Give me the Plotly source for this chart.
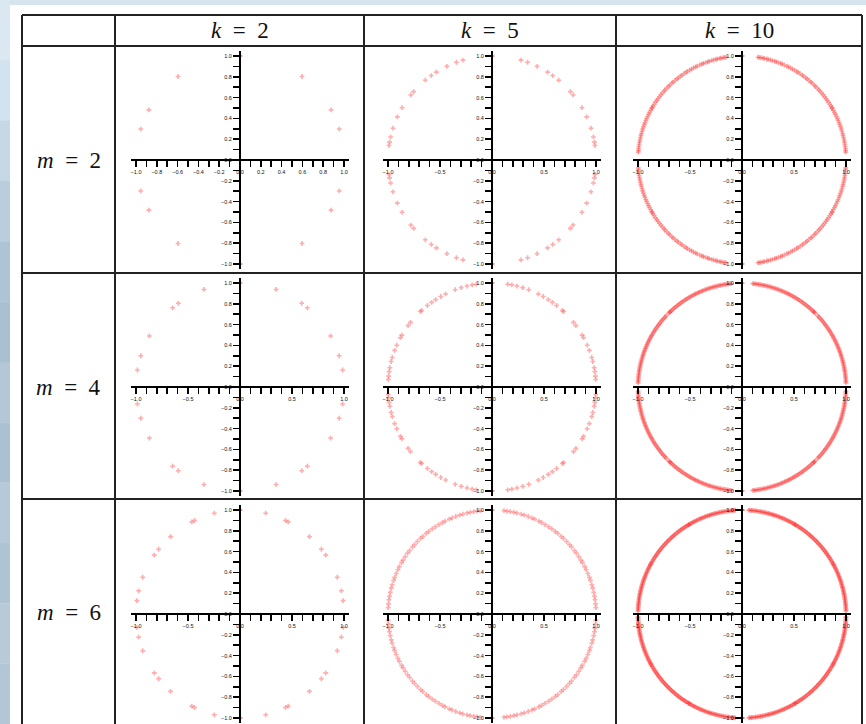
import math
import plotly.graph_objects as go

# ---------------- data (angles in degrees, first quadrant) ----------------
k_values = [2, 5, 10]
m_values = [2, 4, 6]

ang_m2_k2 = [90, 53.4, 28.8, 17.3]
ang_m2_k5 = [90, 73.8, 70.0, 64.3, 57.7, 54.3, 50.1, 41.1, 38.7, 30.2, 24.5, 17.8, 12.8, 9.9, 8.0]
ang_m2_k10 = [90, 81.2, 80.4, 79.5, 78.3, 77.6, 76.2, 75.4, 74.1, 73.0, 71.6, 70.8, 69.5, 68.1, 67.3,
              66.0, 64.4, 63.5, 62.2, 61.0, 59.8, 58.3, 57.4, 56.1, 54.6, 53.7, 52.2, 51.3, 49.9,
              48.5, 47.6, 46.0, 45.1, 43.7, 42.3, 41.4, 40.0, 38.8, 37.5, 36.2, 35.0, 33.8, 32.4,
              31.2, 30.0, 30.0, 28.6, 27.3, 26.2, 24.9, 23.6, 22.4, 21.0, 19.9, 18.6, 17.3, 16.2,
              14.8, 13.7, 12.4, 11.1, 10.0, 8.7, 7.5, 6.2, 5.1, 4.3]

ang_m4_k2 = [90, 69.7, 53.6, 49.6, 29.4, 17.5, 9.4]
ang_m4_k5 = [90, 81.3, 79.0, 76.1, 72.8, 69.3, 63.5, 60.5, 57.2, 54.5, 51.6, 47.4, 46.5, 38.4, 36.2,
             29.9, 28.3, 23.7, 20.6, 16.5, 14.2, 10.7, 8.5, 6.0, 4.1]
ang_m4_k10 = [90, 84.1, 83.4, 82.6, 81.9, 81.0, 80.3, 79.5, 78.6, 77.9, 77.1, 76.2, 75.5, 74.6, 73.8,
              73.0, 72.1, 71.4, 70.5, 69.7, 68.9, 68.0, 67.3, 66.4, 65.6, 64.8, 63.9, 63.2, 62.3,
              61.5, 60.7, 59.8, 59.1, 58.2, 57.4, 56.6, 55.7, 55.0, 54.1, 53.3, 52.5, 51.6, 50.9,
              50.0, 49.2, 48.4, 47.5, 46.8, 46.0, 46.0, 45.2, 43.4, 42.6, 41.8, 40.9, 40.0, 39.2,
              38.3, 37.6, 36.7, 35.9, 35.1, 34.2, 33.5, 32.6, 31.8, 31.0, 30.1, 29.4, 28.5, 27.7,
              26.9, 26.0, 25.3, 24.4, 23.6, 22.8, 21.9, 21.2, 20.3, 19.5, 18.7, 17.8, 17.1, 16.2,
              15.4, 14.6, 13.7, 13.0, 12.1, 11.3, 10.5, 9.6, 8.9, 8.0, 7.2, 6.4, 5.5, 4.8, 3.9,
              3.1, 2.3]

ang_m6_k2 = [90, 75.7, 64.1, 62.4, 48.1, 38.5, 34.5, 20.7, 12.9, 7.4]
ang_m6_k5 = [90, 83.4, 81.8, 79.9, 77.8, 76.1, 73.7, 71.9, 69.6, 67.4, 65.8, 63.2, 61.5, 59.3, 57.0,
             54.9, 52.6, 50.8, 48.3, 46.6, 44.2, 41.9, 40.1, 37.6, 35.7, 33.4, 31.2, 29.6, 27.1,
             25.2, 22.9, 20.6, 18.8, 16.3, 14.4, 12.0, 9.8, 7.9, 5.6, 3.5]
ang_m6_k10 = [90, 90, 86.3, 85.7, 84.9, 84.4, 83.6, 82.8, 82.3, 81.5, 80.9, 80.1, 79.6, 78.8, 78.2,
              77.4, 76.9, 76.1, 75.4, 74.9, 74.1, 73.4, 72.8, 72.0, 71.5, 70.7, 70.1, 69.3, 68.8,
              68.0, 67.3, 66.8, 66.0, 65.4, 64.6, 64.1, 63.3, 62.6, 62.1, 61.3, 60.7, 60.0, 59.4,
              59.0, 59.0, 58.0, 57.4, 56.8, 56.1, 55.4, 54.9, 54.1, 53.5, 52.7, 52.2, 51.4, 50.8,
              50.0, 49.4, 48.7, 48.1, 47.3, 46.8, 46.0, 45.3, 44.7, 44.0, 43.4, 42.6, 42.1, 41.3,
              40.7, 39.9, 39.4, 38.6, 38.0, 37.2, 36.7, 35.9, 35.3, 34.6, 34.0, 33.2, 32.7, 31.9,
              31.3, 30.5, 29.9, 29.0, 29.0, 28.2, 27.6, 27.0, 26.3, 25.6, 25.0, 24.3, 23.7, 22.9,
              22.4, 21.6, 21.0, 20.3, 19.7, 18.9, 18.4, 17.6, 17.0, 16.3, 15.6, 15.0, 14.3, 13.7,
              12.9, 12.4, 11.6, 11.0, 10.3, 9.6, 9.0, 8.3, 7.7, 6.9, 6.4, 5.6, 5.0, 4.3, 3.6, 3.0,
              2.3, 1.6]

panels = [
    [ang_m2_k2, ang_m2_k5, ang_m2_k10],
    [ang_m4_k2, ang_m4_k5, ang_m4_k10],
    [ang_m6_k2, ang_m6_k5, ang_m6_k10],
]

# ---------------- layout geometry (pixels) ----------------
W, H = 866, 724
col_cx = [240, 492, 742]
row_cy = [160, 387, 614]
SCALE = 104.0
R = 1.05
half = SCALE * R

def px(x):
    return x / W

def py(y):
    return 1 - y / H

fig = go.Figure()
layout = {}
tickfont = dict(family="Liberation Sans, Arial", size=5.5, color="#111")

idx = 0
for r in range(3):
    for c in range(3):
        idx += 1
        sfx = "" if idx == 1 else str(idx)
        angs = panels[r][c]
        xs, ys = [], []
        for a in angs:
            co, si = math.cos(math.radians(a)), math.sin(math.radians(a))
            for sx, sy in ((1, 1), (-1, 1), (1, -1), (-1, -1)):
                xs.append(sx * co)
                ys.append(sy * si)
        fig.add_trace(go.Scatter(
            x=xs, y=ys, mode="markers", xaxis="x" + sfx, yaxis="y" + sfx,
            marker=dict(symbol="cross", size=4, color="rgba(255,40,40,0.38)", line=dict(width=0)),
            hoverinfo="skip", showlegend=False))
        cx, cy = col_cx[c], row_cy[r]
        xdt = 0.2 if (r == 0 and c == 0) else 0.5
        layout["xaxis" + sfx] = dict(
            domain=[px(cx - half), px(cx + half)], range=[-R, R],
            anchor="free", position=py(cy), side="bottom",
            showline=True, linecolor="black", linewidth=2,
            ticks="outside", ticklen=6, tickwidth=1.5, tickcolor="black",
            dtick=xdt, tick0=0, tickformat=".1f", tickfont=tickfont,
            minor=dict(dtick=0.1, tick0=0, ticks="outside", ticklen=6, tickwidth=1.5, tickcolor="black"),
            showgrid=False, zeroline=False, fixedrange=True)
        layout["yaxis" + sfx] = dict(
            domain=[py(cy + half), py(cy - half)], range=[-R, R],
            anchor="free", position=px(cx), side="left",
            showline=True, linecolor="black", linewidth=2,
            ticks="outside", ticklen=6, tickwidth=1.5, tickcolor="black",
            dtick=0.2, tick0=0, tickformat=".1f", tickfont=tickfont,
            minor=dict(dtick=0.1, tick0=0, ticks="outside", ticklen=6, tickwidth=1.5, tickcolor="black"),
            showgrid=False, zeroline=False, fixedrange=True)

# ---------------- background & table ----------------
shapes = []
band_colors = ["#dbe8f2", "#d2e2ee", "#c6d8e6", "#b9cddd", "#aec4d6", "#a9c0d2", "#b3c7d7",
               "#abc1d3", "#b6c9d8", "#aec3d4", "#b8cad8", "#b2c6d5"]
nb = len(band_colors)
for i, colr in enumerate(band_colors):
    shapes.append(dict(type="rect", xref="paper", yref="paper", x0=0, x1=px(10),
                       y0=py((i + 1) * H / nb), y1=py(i * H / nb),
                       fillcolor=colr, line=dict(width=0), layer="below"))
shapes.append(dict(type="rect", xref="paper", yref="paper", x0=px(10), x1=1, y0=0, y1=py(5),
                   fillcolor="white", line=dict(width=0), layer="below"))

line_style = dict(color="#222", width=2)
h_lines = [15, 46, 273, 499]
v_lines = [22, 115, 364, 616, 862]
for yy in h_lines:
    shapes.append(dict(type="line", xref="paper", yref="paper", x0=px(22), x1=px(862),
                       y0=py(yy), y1=py(yy), line=line_style))
for xx in v_lines:
    shapes.append(dict(type="line", xref="paper", yref="paper", x0=px(xx), x1=px(xx),
                       y0=0, y1=py(15), line=line_style))

annotations = []
hdr_font = dict(family="Liberation Serif, Times New Roman, serif", size=23, color="#111")
hdr_cx = [239.5, 490, 739]
for c, kv in enumerate(k_values):
    annotations.append(dict(xref="paper", yref="paper", x=px(hdr_cx[c]), y=py(30.5),
                            text="<i>k</i>\u2002=\u2002" + str(kv), showarrow=False,
                            font=hdr_font, xanchor="center", yanchor="middle"))
row_label_cy = [161, 387, 612]
for r, mv in enumerate(m_values):
    annotations.append(dict(xref="paper", yref="paper", x=px(68.5), y=py(row_label_cy[r]),
                            text="<i>m</i>\u2002=\u2002" + str(mv), showarrow=False,
                            font=hdr_font, xanchor="center", yanchor="middle"))

fig.update_layout(
    width=W, height=H, margin=dict(l=0, r=0, t=0, b=0),
    paper_bgcolor="#d6e4ee", plot_bgcolor="rgba(0,0,0,0)",
    shapes=shapes, annotations=annotations, showlegend=False,
    **layout)

fig.write_html("out.html", config={"displayModeBar": False, "staticPlot": True},
               post_script="document.body.style.margin='0px';document.body.style.overflow='hidden';")
